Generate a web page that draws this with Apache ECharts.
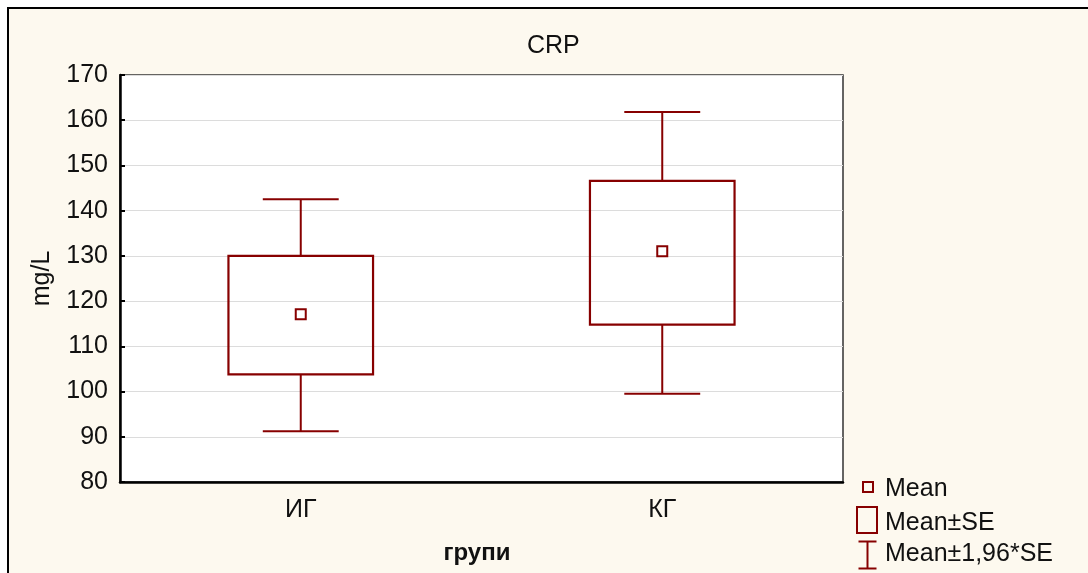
<!DOCTYPE html>
<html>
<head>
<meta charset="utf-8">
<script src="https://cdn.jsdelivr.net/npm/echarts@6/dist/echarts.min.js"></script>
<style>
  html, body { margin: 0; padding: 0; background: #ffffff; overflow: hidden; }
  #frame { position: absolute; left: 7px; top: 7px; width: 1200px; height: 700px;
           border-left: 2px solid #000; border-top: 2px solid #000; background: #fdf9ef; }
  #chart { position: absolute; left: 0; top: 0; width: 1088px; height: 573px; }
</style>
</head>
<body>
<div id="frame"></div>
<div id="chart"></div>
<script>
// ---- data ----
const categories = ['ИГ', 'КГ'];
const means  = [117.1, 131.0];
const seLow  = [103.8, 114.8];
const seHigh = [130.0, 146.6];
const ciLow  = [91.2, 99.5];
const ciHigh = [142.5, 161.8];
const yMin = 80, yMax = 170, yStep = 10;
const legendLabels = ['Mean', 'Mean±SE', 'Mean±1,96*SE'];

const RED = '#870000';
const FONT = 'Liberation Sans, Arial, sans-serif';

const rows = categories.map((c, i) => [i, means[i], seLow[i], seHigh[i], ciLow[i], ciHigh[i]]);

function renderWhisker(params, api) {
  const band = api.size([1, 0])[0];
  const x = api.coord([api.value(0), 0])[0];
  const yl = api.coord([0, api.value(4)])[1];
  const yh = api.coord([0, api.value(5)])[1];
  const ysl = api.coord([0, api.value(2)])[1];
  const ysh = api.coord([0, api.value(3)])[1];
  const cw = band * 0.21 / 2;
  const st = { stroke: RED, lineWidth: 2, fill: null };
  return { type: 'group', children: [
    { type: 'line', shape: { x1: x, y1: yh, x2: x, y2: ysh }, style: st },
    { type: 'line', shape: { x1: x, y1: ysl, x2: x, y2: yl }, style: st },
    { type: 'line', shape: { x1: x - cw, y1: yh, x2: x + cw, y2: yh }, style: st },
    { type: 'line', shape: { x1: x - cw, y1: yl, x2: x + cw, y2: yl }, style: st }
  ]};
}
function renderBox(params, api) {
  const band = api.size([1, 0])[0];
  const x = api.coord([api.value(0), 0])[0];
  const ysl = api.coord([0, api.value(2)])[1];
  const ysh = api.coord([0, api.value(3)])[1];
  const bw = band * 0.40;
  return { type: 'rect', shape: { x: x - bw / 2, y: ysh, width: bw, height: ysl - ysh },
           style: { stroke: RED, lineWidth: 2.2, fill: 'rgba(255,255,255,0)' } };
}
function renderMean(params, api) {
  const p = api.coord([api.value(0), api.value(1)]);
  const s = 10;
  return { type: 'rect', shape: { x: p[0] - s / 2, y: p[1] - s / 2, width: s, height: s },
           style: { stroke: RED, lineWidth: 2, fill: '#fff' } };
}

const chart = echarts.init(document.getElementById('chart'), null, { renderer: 'canvas' });

// legend drawn as decoration
const LX = 856;
const LTEXT = [477, 510.5, 542];
const legendGraphics = [
  { type: 'rect', left: LX + 6, top: 481, shape: { width: 10, height: 10 }, style: { stroke: RED, lineWidth: 2, fill: 'transparent' } },
  { type: 'rect', left: LX, top: 506, shape: { width: 20, height: 26 }, style: { stroke: RED, lineWidth: 2, fill: 'transparent' } },
  { type: 'group', left: LX, top: 539, children: [
      { type: 'line', shape: { x1: 10, y1: 0, x2: 10, y2: 27 }, style: { stroke: RED, lineWidth: 2 } },
      { type: 'line', shape: { x1: 1, y1: 0, x2: 19, y2: 0 }, style: { stroke: RED, lineWidth: 2 } },
      { type: 'line', shape: { x1: 1, y1: 27, x2: 19, y2: 27 }, style: { stroke: RED, lineWidth: 2 } }
  ]}
];
legendLabels.forEach((t, i) => {
  legendGraphics.push({ type: 'text', left: 885, top: LTEXT[i],
    style: { text: t, fill: '#111', font: '25px ' + FONT } });
});

chart.setOption({
  backgroundColor: 'transparent',
  animation: false,
  title: {
    text: 'CRP', left: 522, top: 29,
    textStyle: { fontFamily: FONT, fontSize: 25, fontWeight: 'normal', color: '#111' }
  },
  grid: { left: 120, width: 723, top: 75, height: 407, show: true,
          backgroundColor: '#fff', borderColor: '#333', borderWidth: 1.5 },
  xAxis: {
    type: 'category', data: categories,
    name: 'групи', nameLocation: 'middle', nameGap: 59,
    nameTextStyle: { fontFamily: FONT, fontSize: 24, fontWeight: 'bold', color: '#111', padding: [0, 9, 0, 0] },
    axisLine: { lineStyle: { color: '#000', width: 2.5 } },
    axisTick: { inside: true, alignWithLabel: true, length: 5, lineStyle: { color: '#000', width: 2 } },
    axisLabel: { fontFamily: FONT, fontSize: 25, color: '#111', margin: 16 },
    splitLine: { show: false }
  },
  yAxis: {
    type: 'value', min: yMin, max: yMax, interval: yStep,
    name: 'mg/L', nameLocation: 'middle', nameGap: 65, nameRotate: 90,
    nameTextStyle: { fontFamily: FONT, fontSize: 25, color: '#111' },
    axisLine: { show: true, lineStyle: { color: '#000', width: 2.5 } },
    axisTick: { show: true, inside: true, length: 5, lineStyle: { color: '#000', width: 2 } },
    axisLabel: { fontFamily: FONT, fontSize: 25, color: '#111', margin: 12 },
    splitLine: { show: true, lineStyle: { color: '#dcdcdc', width: 1.2 } }
  },
  series: [
    { type: 'custom', name: 'Mean±1,96*SE', renderItem: renderWhisker, data: rows, z: 2 },
    { type: 'custom', name: 'Mean±SE', renderItem: renderBox, data: rows, z: 3 },
    { type: 'custom', name: 'Mean', renderItem: renderMean, data: rows, z: 4 }
  ],
  graphic: legendGraphics
});
</script>
</body>
</html>
